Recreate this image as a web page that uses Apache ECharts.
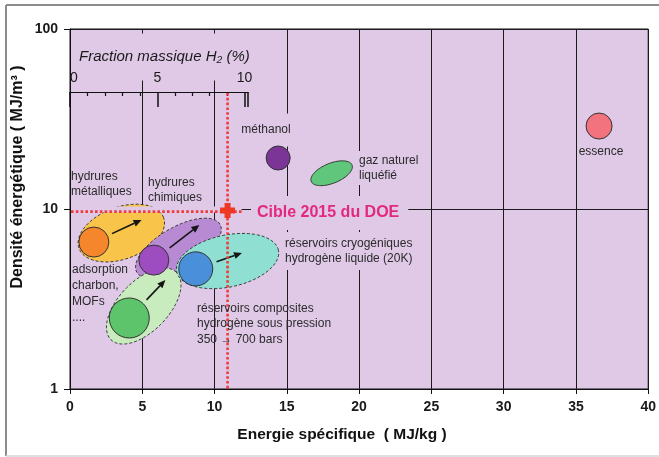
<!DOCTYPE html>
<html>
<head>
<meta charset="utf-8">
<script src="https://cdn.jsdelivr.net/npm/echarts@6/dist/echarts.min.js"></script>
<style>
  html, body { margin: 0; padding: 0; background: #ffffff; }
  #chart { width: 659px; height: 457px; }
</style>
</head>
<body>
<div id="chart"></div>
<script>
// ---- Values -------------------------------------------------------------
// Conventional fuels: specific energy (MJ/kg) and energy density
const fuelNames = ['essence', 'méthanol'];
const fuelEnergy = [36.6, 14.4];
const fuelDensity = [28.9, 19.2];

// Liquefied natural gas
const lngName = 'gaz naturel liquéfié';
const lngEnergy = [18.1];
const lngDensity = [15.8];

// Hydrogen storage families: present position and where progress points to
const storageNames = ['hydrures métalliques', 'hydrures chimiques', 'réservoirs cryogéniques', 'réservoirs composites'];
const storageEnergy = [1.65, 5.8, 8.7, 4.1];
const storageDensity = [6.55, 5.2, 4.65, 2.48];
const storageTargetEnergy = [4.95, 8.95, 11.9, 6.6];
const storageTargetDensity = [8.7, 8.15, 5.7, 4.03];

// Centre of the envelope drawn around each family
const regionEnergy = [3.55, 7.5, 10.9, 5.1];
const regionDensity = [7.35, 6.05, 5.14, 2.89];

// DOE 2015 target
const doeEnergy = [10.9];
const doeDensity = [9.8];

// Axes
const energyMin = 0, energyMax = 40, energyStep = 5;
const densityMin = 1, densityMax = 100;
const h2FractionMin = 0, h2FractionMax = 10.2, h2FractionStep = 5;
const h2MJperKgPerPercent = 1.2; // 120 MJ/kg of H2 -> 1 % mass fraction = 1.2 MJ/kg

// ---- Layout & style -----------------------------------------------------
const W = 659, H = 457;
const PLOT = { left: 70, top: 29, right: 7, bottom: 68 };
const plotW = W - PLOT.left - PLOT.right;
const H2_AXIS_Y = 91;
const BG = '#dfc9e7';
const FONT = 'Liberation Sans, Arial, sans-serif';
const INK = '#2b2b2b';

const regionStyle = [
  { fill: '#f8c449', rx: 45, ry: 26, rot: 20 },
  { fill: '#b88ad3', rx: 48, ry: 21, rot: 30 },
  { fill: '#8fe0d3', rx: 52, ry: 26, rot: 12 },
  { fill: '#c9ecbf', rx: 47, ry: 25, rot: 46 }
];
const regionOrder = [0, 1, 3, 2];
const storageStyle = [
  { color: '#f5862c', size: 30 },
  { color: '#9d4dbf', size: 30 },
  { color: '#4a8fd9', size: 34 },
  { color: '#5ec46b', size: 40 }
];
const fuelStyle = [
  { color: '#f2737e', size: 26 },
  { color: '#7a3596', size: 24 }
];

const chart = echarts.init(document.getElementById('chart'), null, { renderer: 'canvas' });

function ellipsePoints(cx, cy, rx, ry, rotDeg) {
  const th = rotDeg * Math.PI / 180, pts = [];
  for (let k = 0; k < 90; k++) {
    const t = 2 * Math.PI * k / 90;
    const ex = rx * Math.cos(t), ey = ry * Math.sin(t);
    pts.push([cx + ex * Math.cos(th) - ey * Math.sin(th),
              cy - (ex * Math.sin(th) + ey * Math.cos(th))]);
  }
  return pts;
}

function label(x, y, text, opts) {
  opts = opts || {};
  return {
    type: 'text', x: x, y: y, z: opts.z != null ? opts.z : 10,
    style: {
      text: text,
      fontFamily: FONT,
      fontSize: opts.size || 12,
      fontWeight: opts.weight || 'normal',
      fontStyle: opts.style || 'normal',
      fill: opts.color || INK,
      align: opts.align || 'left',
      verticalAlign: 'middle',
      lineHeight: opts.lineHeight || 15,
      backgroundColor: opts.bg,
      padding: opts.padding
    }
  };
}

const option = {
  backgroundColor: '#ffffff',
  animation: false,
  textStyle: { fontFamily: FONT },
  grid: [
    { left: PLOT.left, top: PLOT.top, right: PLOT.right, bottom: PLOT.bottom,
      show: true, backgroundColor: BG, borderColor: '#111', borderWidth: 1 },
    { left: PLOT.left, top: H2_AXIS_Y,
      width: (h2FractionMax * h2MJperKgPerPercent / (energyMax - energyMin)) * plotW,
      height: 1, show: false }
  ],
  xAxis: [
    {
      gridIndex: 0, type: 'value', min: energyMin, max: energyMax, interval: energyStep,
      axisLine: { show: true, lineStyle: { color: '#111', width: 1 } },
      axisTick: { show: true, length: 5, lineStyle: { color: '#111' } },
      axisLabel: { margin: 11, fontSize: 14, fontWeight: 'bold', color: '#1a1a1a', fontFamily: FONT },
      splitLine: { show: true, lineStyle: { color: '#1a1a1a', width: 1 } }
    },
    {
      gridIndex: 1, type: 'value', position: 'top', min: h2FractionMin, max: h2FractionMax,
      interval: h2FractionStep, z: 5,
      axisLine: { show: true, lineStyle: { color: '#111', width: 1.2 } },
      axisTick: { show: true, inside: true, length: 15, lineStyle: { color: '#111', width: 1.5 } },
      minorTick: { show: true, splitNumber: 5, length: 4, lineStyle: { color: '#111', width: 1.2 } },
      axisLabel: { margin: 6, fontSize: 14, color: '#1a1a1a', fontFamily: FONT,
                   showMaxLabel: false, alignMinLabel: 'left' },
      splitLine: { show: false }
    }
  ],
  yAxis: [
    {
      gridIndex: 0, type: 'log', logBase: 10, min: densityMin, max: densityMax,
      axisLine: { show: true, lineStyle: { color: '#111', width: 1 } },
      axisTick: { show: true, length: 6, lineStyle: { color: '#111' } },
      axisLabel: { margin: 12, fontSize: 14, fontWeight: 'bold', color: '#1a1a1a', fontFamily: FONT,
                   formatter: v => String(Math.round(v)) },
      splitLine: { show: true, lineStyle: { color: '#1a1a1a', width: 1 } },
      minorTick: { show: false }, minorSplitLine: { show: false }
    },
    { gridIndex: 1, type: 'value', show: false }
  ],
  series: [
    // Envelopes of each storage family
    {
      type: 'custom', xAxisIndex: 0, yAxisIndex: 0, z: 2,
      data: regionOrder.map(i => [regionEnergy[i], regionDensity[i], i]),
      renderItem: function (params, api) {
        const i = api.value(2);
        const c = api.coord([api.value(0), api.value(1)]);
        const s = regionStyle[i];
        return {
          type: 'polygon',
          shape: { points: ellipsePoints(c[0], c[1], s.rx, s.ry, s.rot) },
          style: { fill: s.fill, stroke: '#3a3a3a', lineWidth: 1, lineDash: [3, 2] }
        };
      }
    },
    // LNG
    {
      type: 'custom', name: lngName, xAxisIndex: 0, yAxisIndex: 0, z: 3,
      data: lngEnergy.map((x, i) => [x, lngDensity[i]]),
      renderItem: function (params, api) {
        const c = api.coord([api.value(0), api.value(1)]);
        return {
          type: 'polygon',
          shape: { points: ellipsePoints(c[0], c[1], 22, 10, 22) },
          style: { fill: '#5fc67c', stroke: '#2f3a2f', lineWidth: 1 }
        };
      }
    },
    // Storage families: current state
    {
      type: 'scatter', xAxisIndex: 0, yAxisIndex: 0, z: 4,
      data: storageEnergy.map((x, i) => ({
        name: storageNames[i], value: [x, storageDensity[i]],
        symbolSize: storageStyle[i].size,
        itemStyle: { color: storageStyle[i].color, borderColor: '#333', borderWidth: 1, opacity: 1 }
      }))
    },
    // Fuels
    {
      type: 'scatter', xAxisIndex: 0, yAxisIndex: 0, z: 4,
      data: fuelEnergy.map((x, i) => ({
        name: fuelNames[i], value: [x, fuelDensity[i]],
        symbolSize: fuelStyle[i].size,
        itemStyle: { color: fuelStyle[i].color, borderColor: '#333', borderWidth: 1, opacity: 1 }
      }))
    },
    // Progress arrows
    {
      type: 'custom', xAxisIndex: 0, yAxisIndex: 0, z: 5,
      data: storageEnergy.map((x, i) => [x, storageDensity[i], storageTargetEnergy[i], storageTargetDensity[i], i]),
      renderItem: function (params, api) {
        const i = api.value(4);
        const c = api.coord([api.value(0), api.value(1)]);
        const t = api.coord([api.value(2), api.value(3)]);
        const dx = t[0] - c[0], dy = t[1] - c[1], L = Math.hypot(dx, dy);
        const ux = dx / L, uy = dy / L;
        const r = storageStyle[i].size / 2 + 5;
        const s = [c[0] + ux * r, c[1] + uy * r];
        const head = 8, hw = 3.5;
        const b = [t[0] - ux * head, t[1] - uy * head];
        return {
          type: 'group',
          children: [
            { type: 'line', shape: { x1: s[0], y1: s[1], x2: b[0], y2: b[1] },
              style: { stroke: '#151515', lineWidth: 1.6 } },
            { type: 'polygon',
              shape: { points: [t, [b[0] - uy * hw, b[1] + ux * hw], [b[0] + uy * hw, b[1] - ux * hw]] },
              style: { fill: '#151515' } }
          ]
        };
      }
    },
    // DOE 2015 target guide lines
    {
      type: 'custom', xAxisIndex: 0, yAxisIndex: 0, z: 6,
      data: doeEnergy.map((x, i) => [x, doeDensity[i]]),
      renderItem: function (params, api) {
        const p = api.coord([api.value(0), api.value(1)]);
        const left = api.coord([energyMin, api.value(1)])[0];
        const bottom = api.coord([api.value(0), densityMin])[1];
        const red = { stroke: '#ef3b3b', lineWidth: 2.6, lineDash: [2.6, 2.2] };
        return {
          type: 'group',
          children: [
            { type: 'line', shape: { x1: left + 1, y1: p[1] - 1, x2: p[0] + 14, y2: p[1] - 1 },
              style: { stroke: BG, lineWidth: 6 } },
            { type: 'line', shape: { x1: left + 1, y1: p[1] + 1, x2: p[0] + 14, y2: p[1] + 1 }, style: red },
            { type: 'line', shape: { x1: p[0], y1: H2_AXIS_Y + 2, x2: p[0], y2: bottom }, style: red }
          ]
        };
      }
    },
    // DOE 2015 target point
    {
      type: 'scatter', xAxisIndex: 0, yAxisIndex: 0, z: 7,
      symbol: 'path://M3,0H7V3H10V7H7V10H3V7H0V3H3Z', symbolSize: 15,
      itemStyle: { color: '#ee3a24', opacity: 1 },
      data: doeEnergy.map((x, i) => [x, doeDensity[i]])
    }
  ],
  graphic: [
    // outer frame
    { type: 'line', z: 20, shape: { x1: 6, y1: 5, x2: 659, y2: 5 }, style: { stroke: '#8c8c8c', lineWidth: 2 } },
    { type: 'line', z: 20, shape: { x1: 6, y1: 5, x2: 6, y2: 456 }, style: { stroke: '#8c8c8c', lineWidth: 2 } },
    { type: 'line', z: 20, shape: { x1: 6, y1: 456, x2: 659, y2: 456 }, style: { stroke: '#d4d4d4', lineWidth: 1.5 } },

    // axis titles
    label(342, 435, 'Energie spécifique  ( MJ/kg )', { size: 15.5, weight: 'bold', align: 'center', color: '#111' }),
    Object.assign(label(18, 177, 'Densité énergétique ( MJ/m³ )', { size: 16, weight: 'bold', align: 'center', color: '#111' }),
      { rotation: Math.PI / 2 }),

    // secondary axis title
    label(76, 57, 'Fraction massique H₂ (%)', { size: 15, style: 'italic', color: '#1a1a1a', z: 1,
      bg: BG, padding: [10, 3, 22, 3] }),

    // annotations
    label(266, 130, 'méthanol', { align: 'center', bg: BG, padding: [14, 3, 4, 3], z: 1 }),
    label(357, 168, 'gaz naturel\nliquéfié', { bg: BG, padding: [2, 3, 2, 2], z: 1 }),
    label(601, 152, 'essence', { align: 'center' }),
    label(71, 184, 'hydrures\nmétalliques'),
    label(148, 190, 'hydrures\nchimiques'),
    label(251, 213, 'Cible 2015 du DOE', { size: 16, weight: 'bold', color: '#e2287f',
      bg: BG, padding: [9, 9, 10, 6], z: 1 }),
    label(283, 251, 'réservoirs cryogéniques\nhydrogène liquide (20K)', { bg: BG, padding: [4, 3, 4, 2], z: 1 }),
    label(72, 294, 'adsorption\ncharbon,\nMOFs\n....', { lineHeight: 16 }),
    label(197, 324, 'réservoirs composites\nhydrogène sous pression\n350 → 700 bars', { lineHeight: 15.5 })
  ]
};

chart.setOption(option);
</script>
</body>
</html>
